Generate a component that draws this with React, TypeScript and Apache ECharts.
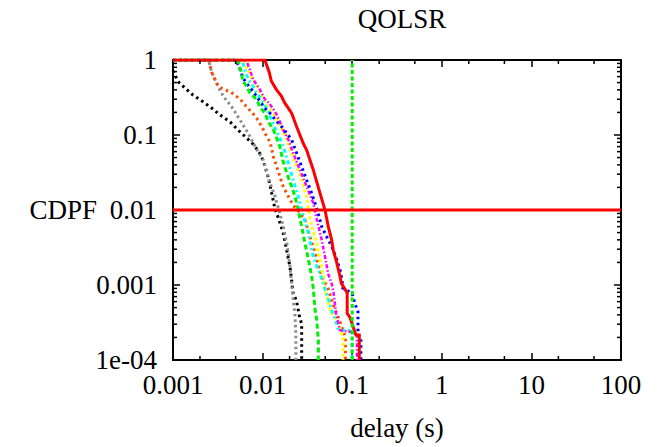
import React, { useEffect, useRef } from "react";
import * as echarts from "echarts";

// Axis ticks
const xTickValues = [0.001, 0.01, 0.1, 1, 10, 100];
const xTickLabels = ["0.001", "0.01", "0.1", "1", "10", "100"];
const yTickValues = [0.0001, 0.001, 0.01, 0.1, 1];
const yTickLabels = ["1e-04", "0.001", "0.01", "0.1", "1"];
const xMinorMultipliers = [2, 5];
const yMinorMultipliers = [2, 3, 4, 5, 6, 7, 8, 9];

// Series (delay in s, CDPF)
const redX = [0.001, 0.0106, 0.0119, 0.0125, 0.0142, 0.0162, 0.0176, 0.0211, 0.024, 0.0284, 0.031, 0.0368, 0.0438, 0.0497, 0.0541, 0.059, 0.0615, 0.0671, 0.0731, 0.0757, 0.0823, 0.0879, 0.0879, 0.0944, 0.11, 0.12, 0.12];
const redY = [1, 1, 0.677, 0.525, 0.406, 0.331, 0.27, 0.195, 0.129, 0.0775, 0.0631, 0.0341, 0.0167, 0.01, 0.006, 0.004, 0.0029, 0.002, 0.0013, 0.00105, 0.0009, 0.00078, 0.00042, 0.00037, 0.000215, 0.000215, 0.0001];

const greenX = [0.001, 0.0053, 0.0055, 0.0058, 0.006, 0.0066, 0.0072, 0.0082, 0.0089, 0.0093, 0.0106, 0.0116, 0.0132, 0.0144, 0.0156, 0.0168, 0.0186, 0.0211, 0.023, 0.025, 0.0273, 0.0297, 0.0324, 0.0353, 0.0368, 0.0385, 0.0402, 0.0419, 0.0419];
const greenY = [1, 1, 0.83, 0.68, 0.525, 0.45, 0.366, 0.314, 0.27, 0.238, 0.195, 0.15, 0.117, 0.09, 0.07, 0.046, 0.031, 0.0205, 0.0151, 0.01, 0.006, 0.0036, 0.0022, 0.0013, 0.0009, 0.00047, 0.00034, 0.00018, 0.0001];

const blueX = [0.001, 0.0051, 0.0053, 0.0057, 0.006, 0.0066, 0.0072, 0.0078, 0.0085, 0.0093, 0.0106, 0.0121, 0.0145, 0.0169, 0.0211, 0.024, 0.0273, 0.031, 0.0353, 0.0402, 0.0457, 0.0519, 0.059, 0.0671, 0.0731, 0.077, 0.0785, 0.0995, 0.107, 0.116, 0.116, 0.125, 0.125];
const blueY = [1, 1, 0.876, 0.714, 0.58, 0.498, 0.427, 0.386, 0.331, 0.284, 0.227, 0.195, 0.15, 0.123, 0.086, 0.057, 0.0377, 0.0251, 0.0167, 0.0105, 0.006, 0.0044, 0.0033, 0.0022, 0.0016, 0.00117, 0.00091, 0.00078, 0.00057, 0.00044, 0.000215, 0.0002, 0.0001];

const magentaX = [0.001, 0.0064, 0.0066, 0.0072, 0.0078, 0.0093, 0.0106, 0.0118, 0.0138, 0.0156, 0.017, 0.0194, 0.022, 0.0261, 0.031, 0.0368, 0.0402, 0.0457, 0.0497, 0.054, 0.059, 0.062, 0.066, 0.073, 0.113, 0.113];
const magentaY = [1, 1, 0.97, 0.75, 0.553, 0.406, 0.3, 0.267, 0.204, 0.15, 0.117, 0.086, 0.057, 0.0341, 0.0205, 0.0123, 0.0075, 0.004, 0.0024, 0.0014, 0.00104, 0.00078, 0.00042, 0.00025, 0.00023, 0.0001];

const cyanX = [0.001, 0.0059, 0.0063, 0.0069, 0.0078, 0.0085, 0.0097, 0.0116, 0.0126, 0.0138, 0.0156, 0.017, 0.0194, 0.022, 0.025, 0.0273, 0.0324, 0.0353, 0.0385, 0.0438, 0.0475, 0.0516, 0.06, 0.0675, 0.07, 0.1, 0.1];
const cyanY = [1, 1, 0.75, 0.55, 0.45, 0.366, 0.3, 0.204, 0.158, 0.123, 0.09, 0.07, 0.042, 0.025, 0.0151, 0.01, 0.0049, 0.0029, 0.002, 0.0014, 0.00104, 0.00077, 0.00044, 0.0003, 0.00025, 0.00025, 0.0001];

const yellowX = [0.001, 0.0062, 0.0066, 0.0072, 0.0082, 0.0089, 0.0101, 0.011, 0.0132, 0.015, 0.017, 0.0186, 0.0202, 0.024, 0.0273, 0.031, 0.0324, 0.0353, 0.0402, 0.0438, 0.0475, 0.05, 0.0565, 0.0675, 0.079, 0.079];
const yellowY = [1, 1, 0.83, 0.645, 0.498, 0.406, 0.314, 0.256, 0.195, 0.15, 0.111, 0.086, 0.066, 0.0377, 0.0251, 0.0151, 0.01, 0.006, 0.0036, 0.0022, 0.0013, 0.00085, 0.00047, 0.00034, 0.0002, 0.0001];

const orangeX = [0.001, 0.0025, 0.0027, 0.00307, 0.0035, 0.0044, 0.0056, 0.0065, 0.0078, 0.0089, 0.0099, 0.0109, 0.0121, 0.0127, 0.0132, 0.0144, 0.0156, 0.017, 0.0194, 0.022, 0.0255, 0.0297, 0.0338, 0.0385, 0.0419, 0.0475, 0.053, 0.06, 0.072, 0.084, 0.084];
const orangeY = [1, 1, 0.69, 0.489, 0.419, 0.374, 0.302, 0.244, 0.193, 0.158, 0.126, 0.1, 0.0806, 0.063, 0.051, 0.0377, 0.0278, 0.0205, 0.0151, 0.0115, 0.0095, 0.0074, 0.0044, 0.0027, 0.0018, 0.00117, 0.00095, 0.00058, 0.00034, 0.0002, 0.0001];

const grayX = [0.001, 0.0025, 0.0027, 0.0029, 0.0034, 0.0038, 0.0045, 0.0056, 0.0069, 0.0079, 0.0087, 0.0102, 0.0121, 0.0138, 0.0152, 0.0169, 0.0188, 0.0202, 0.0211, 0.0218, 0.023, 0.0235, 0.0235];
const grayY = [1, 1, 0.69, 0.57, 0.378, 0.308, 0.239, 0.158, 0.105, 0.0775, 0.063, 0.0464, 0.0227, 0.0151, 0.01, 0.0063, 0.0034, 0.0018, 0.001, 0.0007, 0.00039, 0.000215, 0.0001];

const blackX = [0.001, 0.00114, 0.00136, 0.00167, 0.00216, 0.0027, 0.00335, 0.00433, 0.0053, 0.00665, 0.0079, 0.0093, 0.0102, 0.0116, 0.0126, 0.0137, 0.015, 0.017, 0.0186, 0.0202, 0.0211, 0.0218, 0.024, 0.0256, 0.0273, 0.0273];
const blackY = [0.72, 0.514, 0.423, 0.341, 0.278, 0.229, 0.185, 0.15, 0.117, 0.091, 0.075, 0.057, 0.045, 0.027, 0.017, 0.0105, 0.0078, 0.0049, 0.0029, 0.00175, 0.00115, 0.0008, 0.0006, 0.0004, 0.0003, 0.0001];

// Reference lines
const hLineX = [0.001, 100];
const hLineY = [0.01, 0.01];
const vLineX = [0.1, 0.1];
const vLineY = [0.0001, 1];

const FONT = "'Liberation Serif', 'Times New Roman', serif";
const FS = 27;

const zip = (xs: number[], ys: number[]) => xs.map((x, i) => [x, ys[i]]);
const labelFor = (vals: number[], labels: string[]) => (v: number) => {
  const i = vals.findIndex((t) => Math.abs(Math.log10(t) - Math.log10(v)) < 1e-6);
  return i >= 0 ? labels[i] : "";
};

function buildMinor() {
  const out: number[][] = [];
  for (let d = 0; d < xTickValues.length - 1; d++) {
    for (const m of xMinorMultipliers) out.push([xTickValues[d] * m, 0.01, 0]);
  }
  for (let d = 0; d < yTickValues.length - 1; d++) {
    for (const m of yMinorMultipliers) out.push([0.01, yTickValues[d] * m, 1]);
  }
  return out;
}

function lineSeries(name: string, xs: number[], ys: number[], color: string, width: number, type: any, z = 2) {
  return {
    name,
    type: "line",
    data: zip(xs, ys),
    showSymbol: false,
    symbol: "none",
    z,
    lineStyle: { color, width, type, cap: "butt", join: "miter" },
  };
}

export default function App() {
  const ref = useRef<HTMLDivElement>(null);
  useEffect(() => {
    const chart = echarts.init(ref.current!, null, { renderer: "svg" });
    const xMin = xTickValues[0];
    const xMax = xTickValues[xTickValues.length - 1];
    const yMin = yTickValues[0];
    const yMax = yTickValues[yTickValues.length - 1];
    const axisCommon = {
      axisLine: { show: true, onZero: false, lineStyle: { color: "#000", width: 2 } },
      axisTick: { show: true, inside: true, length: 7, lineStyle: { color: "#000", width: 1.5 } },
      splitLine: { show: false },
    };
    const labelStyle = { color: "#000", fontSize: FS, fontFamily: FONT };
    chart.setOption({
      animation: false,
      backgroundColor: "#fff",
      title: {
        text: "QOLSR",
        left: 397,
        top: 0,
        textAlign: "center",
        textStyle: { color: "#000", fontSize: 27, fontWeight: "normal", fontFamily: FONT },
      },
      grid: { left: 173, right: 44, top: 60, bottom: 87, containLabel: false },
      xAxis: [
        {
          type: "log",
          logBase: 10,
          min: xMin,
          max: xMax,
          position: "bottom",
          ...axisCommon,
          axisLabel: { ...labelStyle, margin: 11, formatter: labelFor(xTickValues, xTickLabels), showMinLabel: true, showMaxLabel: true },
          name: "delay (s)",
          nameLocation: "middle",
          nameGap: 54,
          nameMoveOverlap: false,
          nameTextStyle: labelStyle,
        },
        {
          type: "log",
          logBase: 10,
          min: xMin,
          max: xMax,
          position: "top",
          ...axisCommon,
          axisLabel: { show: false },
        },
      ],
      yAxis: [
        {
          type: "log",
          logBase: 10,
          min: yMin,
          max: yMax,
          position: "left",
          ...axisCommon,
          axisLabel: { ...labelStyle, margin: 16, formatter: labelFor(yTickValues, yTickLabels), showMinLabel: true, showMaxLabel: true },
          name: "CDPF",
          nameLocation: "middle",
          nameRotate: 0,
          nameGap: 76,
          nameMoveOverlap: false,
          nameTextStyle: labelStyle,
        },
        {
          type: "log",
          logBase: 10,
          min: yMin,
          max: yMax,
          position: "right",
          ...axisCommon,
          axisLabel: { show: false },
        },
      ],
      series: [
        lineSeries("black", blackX, blackY, "#000000", 3, [2.5, 3.5]),
        lineSeries("gray", grayX, grayY, "#8c8c8c", 3, [2.5, 3]),
        lineSeries("orange", orangeX, orangeY, "#ff4d00", 3, [2.5, 3.5]),
        lineSeries("yellow", yellowX, yellowY, "#ffff00", 3, [3, 2.5]),
        lineSeries("cyan", cyanX, cyanY, "#00ffff", 3, [4, 3, 2, 3]),
        lineSeries("magenta", magentaX, magentaY, "#ff00ff", 2.5, [4, 2, 1.5, 2]),
        lineSeries("blue", blueX, blueY, "#0000ff", 3, [2.5, 3.5]),
        lineSeries("green", greenX, greenY, "#00f000", 3, [5, 3]),
        lineSeries("red", redX, redY, "#ff0000", 3, "solid"),
        lineSeries("bound-delay", vLineX, vLineY, "#00f000", 3, [4, 2.5], 3),
        lineSeries("bound-prob", hLineX, hLineY, "#ff0000", 3, "solid", 3),
        {
          type: "custom",
          name: "minor-ticks",
          data: buildMinor(),
          encode: { x: 0, y: 1 },
          z: 4,
          silent: true,
          clip: false,
          renderItem: (_params: any, api: any) => {
            const kind = api.value(2);
            const st = { stroke: "#000", lineWidth: 1.5 };
            if (kind === 0) {
              const b = api.coord([api.value(0), yMin]);
              const t = api.coord([api.value(0), yMax]);
              return {
                type: "group",
                children: [
                  { type: "line", shape: { x1: b[0], y1: b[1], x2: b[0], y2: b[1] - 4 }, style: st },
                  { type: "line", shape: { x1: t[0], y1: t[1], x2: t[0], y2: t[1] + 4 }, style: st },
                ],
              };
            }
            const l = api.coord([xMin, api.value(1)]);
            const r = api.coord([xMax, api.value(1)]);
            return {
              type: "group",
              children: [
                { type: "line", shape: { x1: l[0], y1: l[1], x2: l[0] + 4, y2: l[1] }, style: st },
                { type: "line", shape: { x1: r[0], y1: r[1], x2: r[0] - 4, y2: r[1] }, style: st },
              ],
            };
          },
        },
      ],
    });
    return () => chart.dispose();
  }, []);
  return (
    <div
      ref={ref}
      style={{ position: "absolute", left: 0, top: 0, width: 665, height: 447, background: "#fff" }}
    />
  );
}
